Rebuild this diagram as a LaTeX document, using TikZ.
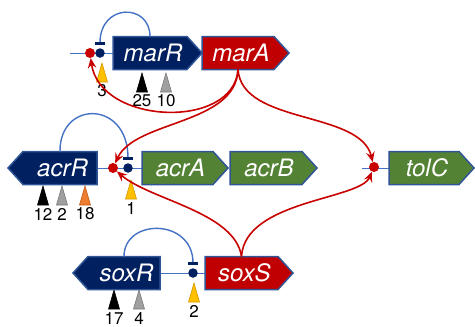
\documentclass[tikz,border=0pt]{standalone}
\usepackage{fontspec}
\setmainfont{TeX Gyre Heros}
\usetikzlibrary{arrows.meta}

\definecolor{genenavy}{RGB}{0,32,96}
\definecolor{genered}{RGB}{192,0,0}
\definecolor{genegreen}{RGB}{84,130,53}
\definecolor{geneedge}{RGB}{47,85,151}
\definecolor{linkblue}{RGB}{68,114,196}
\definecolor{actred}{RGB}{200,0,0}
\definecolor{siteyellow}{RGB}{255,192,0}
\definecolor{siteyellowedge}{RGB}{214,150,0}
\definecolor{sitegray}{RGB}{160,160,160}
\definecolor{sitegrayedge}{RGB}{120,120,120}
\definecolor{siteorange}{RGB}{237,125,49}
\definecolor{siteorangeedge}{RGB}{196,89,17}

\tikzset{
  genebox/.style={draw=geneedge, line width=1.5pt, line join=miter},
  genetext/.style={text=white, inner sep=0pt,
    font=\fontsize{24}{28}\selectfont\itshape},
  sitelabel/.style={inner sep=0pt, font=\fontsize{17}{20}\selectfont},
  reddot/.style={circle, fill=actred, inner sep=0pt, minimum size=10pt},
  navydot/.style={circle, fill=genenavy, inner sep=0pt, minimum size=9.5pt},
  axisline/.style={draw=linkblue, line width=1pt},
  feedback/.style={draw=linkblue, line width=1.4pt,
    -{Bar[width=9.5pt, line width=2.2pt, color=genenavy]}},
  activation/.style={draw=actred, line width=1.6pt,
    -{Stealth[length=10pt, width=8.5pt, inset=3.5pt]}},
  ysite/.style={fill=siteyellow, draw=siteyellowedge, line width=0.6pt},
  gsite/.style={fill=sitegray, draw=sitegrayedge, line width=0.6pt},
  bsite/.style={fill=black, draw=black, line width=0.6pt},
  osite/.style={fill=siteorange, draw=siteorangeedge, line width=0.6pt},
}

% gene pointing right: name, left x, tip x, axis y, fill colour
\newcommand\geneEast[5]{%
  \path[genebox, fill=#5] (#2,#4-16.5) -- (#3-15,#4-16.5) -- (#3,#4)
    -- (#3-15,#4+16.5) -- (#2,#4+16.5) -- cycle;
  \coordinate (#1-top) at ({(#2+#3-15)/2},#4-16.5);
  \coordinate (#1-bot) at ({(#2+#3-15)/2},#4+16.5);
  \coordinate (#1-w) at (#2,#4);
  \coordinate (#1-e) at (#3-15,#4);
  \node[genetext] (#1) at ({(#2+#3-15)/2+3},#4) {#1};}

% gene pointing left: name, tip x, right x, axis y, fill colour
\newcommand\geneWest[5]{%
  \path[genebox, fill=#5] (#3,#4-16.5) -- (#2+15,#4-16.5) -- (#2,#4)
    -- (#2+15,#4+16.5) -- (#3,#4+16.5) -- cycle;
  \coordinate (#1-top) at ({(#2+15+#3)/2},#4-16.5);
  \coordinate (#1-bot) at ({(#2+15+#3)/2},#4+16.5);
  \coordinate (#1-w) at (#2+15,#4);
  \coordinate (#1-e) at (#3,#4);
  \node[genetext] (#1) at ({(#2+15+#3)/2+2.5},#4) {#1};}

% binding site marker: name, x, top y, style, label
\newcommand\bsitemark[5]{%
  \path[#4] (#2,#3) -- (#2+5.5,#3+19) -- (#2-5.5,#3+19) -- cycle;
  \node[sitelabel] (#1) at (#2,#3+28) {#5};}

\begin{document}
\begin{tikzpicture}[x=1pt, y=-1pt]
\useasboundingbox (0,0) rectangle (475,327);

% ---- promoter axes ----
\coordinate (marRax) at (70,53);
\coordinate (tolCax) at (362,168);
\coordinate (marR-w0) at (113,53);
\draw[axisline] (marRax) -- (marR-w0);
\draw[axisline] (97,168) -- (142,168);
\draw[axisline] (tolCax) -- (389,168);
\draw[axisline] (160,273) -- (205,273);

% ---- binding sites ----
\bsitemark{s3}{102}{63}{ysite}{3}
\bsitemark{s25}{142}{73}{bsite}{25}
\bsitemark{s10}{166}{73}{gsite}{10}
\bsitemark{s12}{43}{186}{bsite}{12}
\bsitemark{s2a}{62}{186}{gsite}{2}
\bsitemark{s18}{85}{186}{osite}{18}
\bsitemark{s1}{131}{180}{ysite}{1}
\bsitemark{s17}{114}{290}{bsite}{17}
\bsitemark{s4}{139}{290}{gsite}{4}
\bsitemark{s2b}{194}{283}{ysite}{2}

% ---- genes ----
\geneEast{marR}{113}{202}{53}{genenavy}
\geneEast{marA}{202}{289}{53}{genered}
\geneWest{acrR}{8}{97}{168}{genenavy}
\geneEast{acrA}{142}{228}{168}{genegreen}
\geneEast{acrB}{230}{317}{168}{genegreen}
\geneEast{tolC}{389}{474}{168}{genegreen}
\geneWest{soxR}{73}{160}{273}{genenavy}
\geneEast{soxS}{205}{293}{273}{genered}

% ---- operators (navy) and activator sites (red) ----
\node[reddot] (pmarR) at (90,53) {};
\node[navydot] (omarR) at (100,53) {};
\node[reddot] (pacrA) at (113,168) {};
\node[navydot] (oacrA) at (128,168) {};
\node[reddot] (ptolC) at (374,167) {};
\node[navydot] (osoxS) at (193,273) {};
\coordinate (tmarR) at (100,44.5);
\coordinate (tacrA) at (128,159.5);
\coordinate (tsoxS) at (193,264.5);

% ---- repressor feedback ----
\draw[feedback] (marR-top) .. controls (150,3) and (100,3) .. (tmarR);
\draw[feedback] (acrR-top) .. controls (59.5,100) and (128,100) .. (tacrA);
\draw[feedback] (soxR-top) .. controls (124,218) and (193,218) .. (tsoxS);

% ---- activation by MarA and SoxS ----
\draw[activation] (marA-bot) .. controls (234,130) and (100,125) .. (pmarR);
\draw[activation] (marA-bot) .. controls (236,125) and (135,120) .. (pacrA);
\draw[activation] (marA-bot) .. controls (242,125) and (360,110) .. (ptolC);
\draw[activation] (soxS-top) .. controls (235,212) and (150,200) .. (pacrA);
\draw[activation] (soxS-top) .. controls (245,200) and (360,200) .. (ptolC);
\end{tikzpicture}
\end{document}
